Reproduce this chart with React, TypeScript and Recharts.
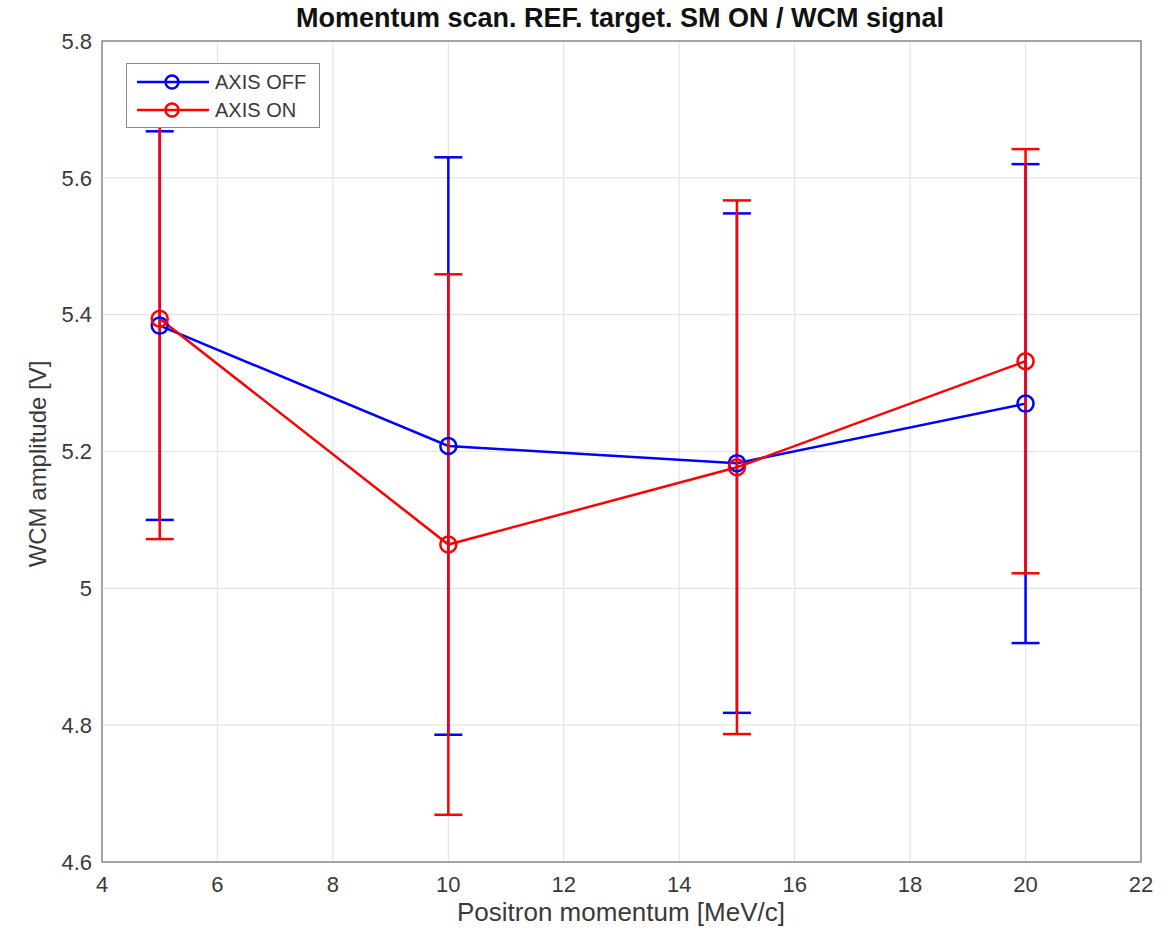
import React from "react";
import { LineChart, Line, XAxis, YAxis, CartesianGrid, ErrorBar, ReferenceArea } from "recharts";

const momenta = [5, 10, 15, 20];
const axisOffValues = [5.384, 5.208, 5.183, 5.27];
const axisOffErrors = [0.284, 0.422, 0.365, 0.35];
const axisOnValues = [5.394, 5.064, 5.177, 5.332];
const axisOnErrors = [0.322, 0.395, 0.39, 0.31];
const xTicks = [4, 6, 8, 10, 12, 14, 16, 18, 20, 22];
const yTicks = [4.6, 4.8, 5.0, 5.2, 5.4, 5.6, 5.8];
const seriesNames = ["AXIS OFF", "AXIS ON"];
const seriesColors = ["#0000ff", "#ff0000"];
const titleText = "Momentum scan. REF. target. SM ON / WCM signal";
const xLabelText = "Positron momentum [MeV/c]";
const yLabelText = "WCM amplitude [V]";

const data = momenta.map((m, i) => ({
  x: m,
  off: axisOffValues[i],
  offErr: axisOffErrors[i],
  on: axisOnValues[i],
  onErr: axisOnErrors[i],
}));

const FONT = "'Liberation Sans', Arial, Helvetica, sans-serif";
const TEXT = "#3a3a3a";

const LegendBox = () => (
  <div
    style={{
      position: "absolute",
      left: 126,
      top: 63,
      width: 194,
      height: 65,
      border: "1.5px solid #8a8a8a",
      background: "#fff",
      boxSizing: "border-box",
      fontFamily: FONT,
      fontSize: 20,
      color: TEXT,
      padding: "4px 0 0 8px",
    }}
  >
    {seriesNames.map((t, i) => (
      <div key={t} style={{ display: "flex", alignItems: "center", height: 28 }}>
        <svg width={76} height={20} style={{ marginRight: 4, flex: "none" }}>
          <line x1={2} y1={10} x2={74} y2={10} stroke={seriesColors[i]} strokeWidth={2.5} />
          <circle cx={37} cy={10} r={6.5} fill="none" stroke={seriesColors[i]} strokeWidth={2.5} />
        </svg>
        <span style={{ whiteSpace: "nowrap" }}>{t}</span>
      </div>
    ))}
  </div>
);

export default function App() {
  return (
    <div style={{ position: "absolute", left: 0, top: 0, width: 1173, height: 935, background: "#fff" }}>
      <LineChart width={1173} height={935} data={data} margin={{ top: 41, right: 32, bottom: 13, left: 42 }}>
        <CartesianGrid stroke="#e4e4e4" strokeWidth={1.2} />
        <XAxis
          dataKey="x"
          type="number"
          domain={[4, 22]}
          ticks={xTicks}
          allowDataOverflow
          height={60}
          axisLine={false}
          tickLine={false}
          tickSize={0}
          tickMargin={14}
          tick={{ fill: TEXT, fontSize: 22, fontFamily: FONT }}
        />
        <YAxis
          type="number"
          domain={[4.6, 5.8]}
          ticks={yTicks}
          allowDataOverflow
          width={60}
          axisLine={false}
          tickLine={false}
          tickSize={0}
          tickMargin={10}
          tickFormatter={(v: number) => String(Number(v.toFixed(1)))}
          tick={{ fill: TEXT, fontSize: 22, fontFamily: FONT }}
        />
        <ReferenceArea x1={4} x2={22} y1={4.6} y2={5.8} fill="none" stroke="#8a8a8a" strokeWidth={1.5} ifOverflow="visible" />
        <Line
          dataKey="off"
          name={seriesNames[0]}
          stroke={seriesColors[0]}
          strokeWidth={2.5}
          dot={{ r: 8, fill: "none", stroke: seriesColors[0], strokeWidth: 2.5 }}
          isAnimationActive={false}
        >
          <ErrorBar dataKey="offErr" direction="y" width={14} stroke={seriesColors[0]} strokeWidth={2.5} isAnimationActive={false} />
        </Line>
        <Line
          dataKey="on"
          name={seriesNames[1]}
          stroke={seriesColors[1]}
          strokeWidth={2.5}
          dot={{ r: 8, fill: "none", stroke: seriesColors[1], strokeWidth: 2.5 }}
          isAnimationActive={false}
        >
          <ErrorBar dataKey="onErr" direction="y" width={14} stroke={seriesColors[1]} strokeWidth={2.5} isAnimationActive={false} />
        </Line>
        <text x={620} y={27} textAnchor="middle" fontFamily={FONT} fontWeight="bold" fontSize={27} fill="#111">
          {titleText}
        </text>
        <text x={621} y={921} textAnchor="middle" fontFamily={FONT} fontSize={26} fill={TEXT}>
          {xLabelText}
        </text>
        <text x={46} y={464} textAnchor="middle" fontFamily={FONT} fontSize={24} fill={TEXT} transform="rotate(-90 46 464)">
          {yLabelText}
        </text>
      </LineChart>
      <LegendBox />
    </div>
  );
}
